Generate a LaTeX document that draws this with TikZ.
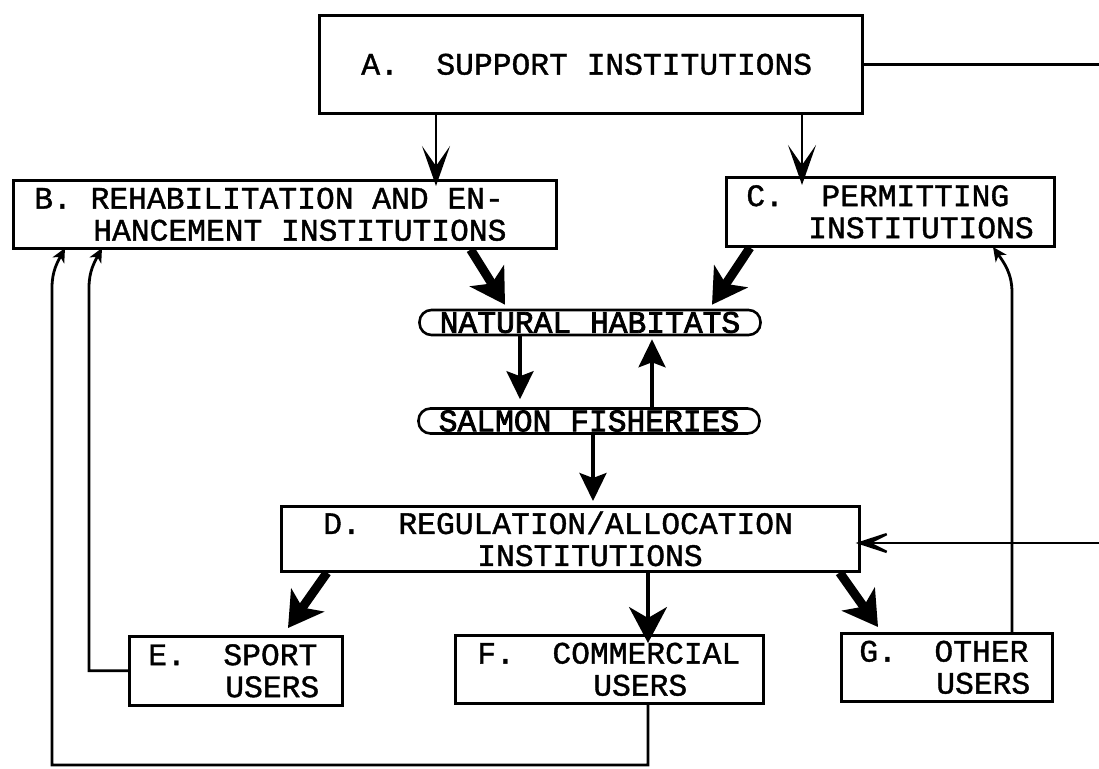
\documentclass[tikz,border=0pt]{standalone}
\usepackage{fontspec}
\newfontfamily\tw[FakeBold=1.2]{Liberation Mono}
\newfontfamily\twb[FakeBold=2.4]{Liberation Mono}
\usetikzlibrary{arrows.meta,calc}
\newcommand\gap[1][1]{\hspace*{#1\dimexpr 18.78pt\relax}}
\begin{document}
\begin{tikzpicture}[x=1pt,y=-1pt,
  txt/.style={font=\tw\fontsize{31.3}{32}\selectfont},
  box/.style={txt,draw,line width=2.6pt,anchor=north west,align=left,inner ysep=0pt},
  pill/.style={font=\twb\fontsize{31.3}{32}\selectfont,draw,line width=2.6pt,rounded corners=12pt,inner sep=0pt,minimum width=341pt,minimum height=25pt},
  barbarr/.style={line width=2.6pt,-{Stealth[length=40pt,width=28pt,inset=20pt]}},
  medarr/.style={line width=3.2pt,-{Stealth[length=28pt,width=27pt,inset=5pt]}},
  fatarr/.style={line width=9pt,-{Stealth[length=34pt,width=40pt,inset=9pt]}},
  smallarr/.style={line width=2.8pt,-{Stealth[length=14pt,width=13pt,inset=4pt]}}
]
\useasboundingbox (0,0) rectangle (1099,768);
\clip (0,0) rectangle (1099,768);
\fill[white] (0,0) rectangle (1099,768);

% boxes
\node[box,minimum width=543pt,minimum height=98pt,inner xsep=42pt,text width=459pt] (A) at (318,14) {A.\gap[2]SUPPORT\gap INSTITUTIONS};
\node[box,minimum width=543pt,minimum height=68pt,inner xsep=21pt,text width=501pt] (B) at (12,179) {B.\gap REHABILITATION\gap AND\gap EN-\\\hspace*{59pt}HANCEMENT\gap INSTITUTIONS};
\node[box,minimum width=328pt,minimum height=69pt,inner xsep=20pt,text width=288pt] (C) at (725,176) {C.\gap[2]PERMITTING\\\hspace*{62pt}INSTITUTIONS};
\node[box,minimum width=578pt,minimum height=65pt,inner xsep=42pt,text width=494pt] (D) at (280,505) {D.\gap[2]REGULATION/ALLOCATION\\\hspace*{154pt}INSTITUTIONS};
\node[box,minimum width=213pt,minimum height=69pt,inner xsep=19pt,text width=175pt] (E) at (128,635) {E.\gap[2]SPORT\\\hspace*{77pt}USERS};
\node[box,minimum width=308pt,minimum height=68pt,inner xsep=22pt,text width=264pt] (F) at (454,634) {F.\gap[2]COMMERCIAL\\\hspace*{116pt}USERS};
\node[box,minimum width=211pt,minimum height=68pt,inner xsep=18pt,text width=175pt] (G) at (840,632) {G.\gap[2]OTHER\\\hspace*{77pt}USERS};

\node[pill] (NH) at (590,322.5) {NATURAL\gap HABITATS};
\node[pill] (SF) at (589,421) {SALMON\gap FISHERIES};

% named x positions
\coordinate (xAB) at (436,0);
\coordinate (xAC) at (802,0);
\coordinate (xNS) at (520,0);
\coordinate (xSN) at (652,0);
\coordinate (xSD) at (593,0);
\coordinate (xF) at (648,0);
\coordinate (xG) at (1012,0);
\coordinate (xE) at (89,0);
\coordinate (xL) at (52,0);
\coordinate (xR) at (1130,0);
\coordinate (yBot) at (0,765);
\coordinate (tipEB) at (102,248);
\coordinate (tipFB) at (65,248);
\coordinate (tipGC) at (993,247);

% A -> B, A -> C
\draw[barbarr] (xAB |- A.south) -- ([yshift=-7pt]xAB |- B.north);
\draw[barbarr] (xAC |- A.south) -- ([yshift=-9pt]xAC |- C.north);

% B, C -> natural habitats
\draw[fatarr] ([xshift=-87pt]B.south east) -- ([xshift=-85pt,yshift=4pt]NH.north);
\draw[fatarr] ([xshift=25pt]C.south west) -- ([xshift=122pt,yshift=4pt]NH.north);

% NH <-> SF
\draw[medarr] (xNS |- NH.south) -- ([yshift=8pt]xNS |- SF.north);
\draw[medarr] (xSN |- SF.north) -- ([yshift=-3pt]xSN |- NH.south);

% SF -> D
\draw[medarr] (xSD |- SF.south) -- ([yshift=4pt]xSD |- D.north);

% D -> users
\draw[fatarr] ([xshift=47pt]D.south west) -- ([xshift=160pt,yshift=7pt]E.north west);
\draw[line width=3.4pt,-{Stealth[length=36pt,width=38pt,inset=11pt]}] (xF |- D.south) -- ([yshift=-9pt]xF |- F.north);
\draw[fatarr] ([xshift=-21pt]D.south east) -- ([xshift=38pt,yshift=5pt]G.north west);

% A -> (off page) -> D
\draw[line width=2.4pt,-{Stealth[length=46pt,width=30pt,inset=30pt]}]
  (A.east) -- (A.east -| xR) -- ([yshift=-38pt]xR |- D.north) -- ([xshift=-5pt,yshift=-38pt]D.north east);

% feedback lines
\draw[smallarr] (E.west) -| ([yshift=-38pt]xE |- B.south) to[out=90,in=-118] (tipEB);
\draw[smallarr] (xF |- F.south) -- (xF |- yBot) -| ([yshift=-38pt]xL |- B.south) to[out=90,in=-118] (tipFB);
\draw[smallarr] (xG |- G.north) -- ([yshift=-45pt]xG |- C.south) to[out=90,in=-55] (tipGC);
\end{tikzpicture}
\end{document}
